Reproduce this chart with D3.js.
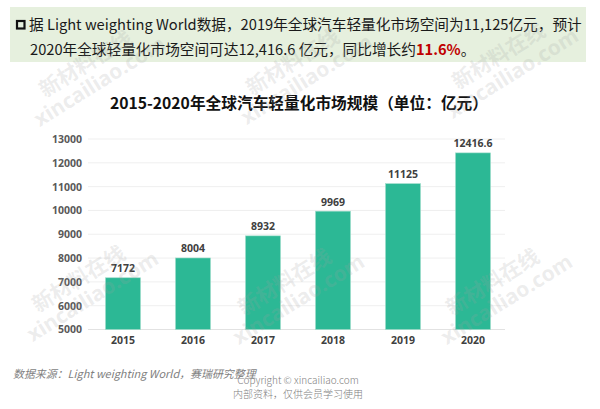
<!DOCTYPE html>
<html>
<head>
<meta charset="utf-8">
<script src="https://cdn.jsdelivr.net/npm/d3@7/dist/d3.min.js"></script>
<style>
  html, body { margin: 0; padding: 0; background: #fff; }
  svg { display: block; font-family: "Noto Sans CJK SC", "Noto Sans", sans-serif; }
</style>
</head>
<body>
<div id="chart"></div>
<script>
// data
const years = ["2015", "2016", "2017", "2018", "2019", "2020"];
const values = [7172, 8004, 8932, 9969, 11125, 12416.6];
const valueLabels = ["7172", "8004", "8932", "9969", "11125", "12416.6"];
const yTicks = [5000, 6000, 7000, 8000, 9000, 10000, 11000, 12000, 13000];

const headLine1 = "据 Light weighting World数据，2019年全球汽车轻量化市场空间为11,125亿元，预计";
const headLine2 = "2020年全球轻量化市场空间可达12,416.6 亿元，同比增长约";
const headRed = "11.6%";
const title = "2015-2020年全球汽车轻量化市场规模（单位：亿元）";
const source = "数据来源：Light weighting World，赛瑞研究整理";
const copyright = ["Copyright © xincailiao.com", "内部资料，仅供会员学习使用"];

const W = 600, H = 409;
const svg = d3.select("#chart").append("svg")
  .attr("width", W).attr("height", H);

// fit a text element to a target width by scaling font size
function fit(sel, target) {
  const w = sel.node().getComputedTextLength();
  const fs = parseFloat(sel.attr("font-size"));
  sel.attr("font-size", fs * target / w);
  return fs * target / w;
}

// -------------------- header box --------------------
svg.append("rect")
  .attr("x", 10).attr("y", 7).attr("width", 576).attr("height", 55)
  .attr("fill", "#e6f0de");

svg.append("rect")
  .attr("x", 17).attr("y", 21).attr("width", 7.5).attr("height", 7.5)
  .attr("fill", "none").attr("stroke", "#111").attr("stroke-width", 2.2);

const h1 = svg.append("text")
  .attr("x", 29).attr("y", 30)
  .attr("font-size", 15).attr("fill", "#1a1a1a")
  .text(headLine1);
const hfs = fit(h1, 553);

const h2 = svg.append("text")
  .attr("x", 30).attr("y", 55)
  .attr("font-size", hfs).attr("fill", "#1a1a1a");
h2.append("tspan").text(headLine2);
h2.append("tspan").attr("fill", "#c00000").attr("font-weight", "bold").text(headRed);
h2.append("tspan").text("。");

// -------------------- title --------------------
const t = svg.append("text")
  .attr("x", 299).attr("y", 109)
  .attr("text-anchor", "middle")
  .attr("font-size", 15.5).attr("font-weight", "bold").attr("fill", "#111")
  .text(title);
fit(t, 378);

// -------------------- chart --------------------
const x = d3.scaleBand().domain(years).range([88, 508])
  .paddingInner(0.5).paddingOuter(0.25);
const y = d3.scaleLinear().domain([5000, 13000]).range([329.5, 139]);

const grid = svg.append("g");
grid.selectAll("line")
  .data(yTicks)
  .join("line")
  .attr("x1", 88).attr("x2", 505)
  .attr("y1", d => y(d)).attr("y2", d => y(d))
  .attr("stroke", d => d === 5000 ? "#e2e2e2" : "#efefef")
  .attr("stroke-width", 1);

const yAxis = svg.append("g")
  .attr("transform", "translate(88,0)")
  .call(d3.axisLeft(y).tickValues(yTicks).tickSize(0).tickPadding(6).tickFormat(d3.format("d")));
yAxis.select(".domain").remove();
yAxis.selectAll("text")
  .attr("font-family", "'Noto Sans', sans-serif")
  .attr("font-size", 10.5).attr("font-weight", "bold").attr("fill", "#595959");

const xAxis = svg.append("g")
  .attr("transform", "translate(0,333)")
  .call(d3.axisBottom(x).tickSize(0).tickPadding(4));
xAxis.select(".domain").remove();
xAxis.selectAll("text")
  .attr("font-family", "'Noto Sans', sans-serif")
  .attr("font-size", 10.5).attr("font-weight", "bold").attr("fill", "#404040");

const rows = years.map((yr, i) => ({ yr, v: values[i], lab: valueLabels[i] }));

svg.append("g").selectAll("rect")
  .data(rows)
  .join("rect")
  .attr("x", d => x(d.yr))
  .attr("width", x.bandwidth())
  .attr("y", d => y(d.v))
  .attr("height", d => y(5000) - y(d.v))
  .attr("fill", "#2cb895")
  .attr("stroke", "#9fdcca").attr("stroke-width", 0.6);

svg.append("g").selectAll("text")
  .data(rows)
  .join("text")
  .attr("x", d => x(d.yr) + x.bandwidth() / 2)
  .attr("y", d => y(d.v) - 5.5)
  .attr("text-anchor", "middle")
  .attr("font-family", "'Noto Sans', sans-serif")
  .attr("font-size", 10.5).attr("font-weight", "bold").attr("fill", "#404040")
  .text(d => d.lab);

// -------------------- footer --------------------
const src = svg.append("text")
  .attr("x", 13).attr("y", 378)
  .attr("font-size", 11).attr("font-style", "italic").attr("fill", "#7f7f7f")
  .text(source);
fit(src, 243);

svg.append("g").selectAll("text")
  .data(copyright)
  .join("text")
  .attr("x", 298).attr("y", (d, i) => 383.5 + i * 14.5)
  .attr("text-anchor", "middle")
  .attr("font-size", 10).attr("font-weight", 300).attr("fill", "#808080")
  .text(d => d);

// -------------------- watermarks --------------------
const wmPos = [[45, 98], [252, 96], [458, 90], [38, 313], [244, 316], [452, 316]];
const wm = svg.append("g").attr("pointer-events", "none");
wmPos.forEach(([px, py]) => {
  const g = wm.append("g").attr("transform", `translate(${px},${py}) rotate(-32)`);
  g.append("text").attr("x", 0).attr("y", 0)
    .attr("font-size", 21).attr("font-weight", "bold")
    .attr("fill", "rgba(160,160,160,0.2)").text("新材料在线");
  g.append("text").attr("x", -20).attr("y", 22)
    .attr("font-family", "'Noto Sans', sans-serif")
    .attr("font-size", 21).attr("font-weight", "bold")
    .attr("fill", "rgba(160,160,160,0.2)").text("xincailiao.com");
});
</script>
</body>
</html>
